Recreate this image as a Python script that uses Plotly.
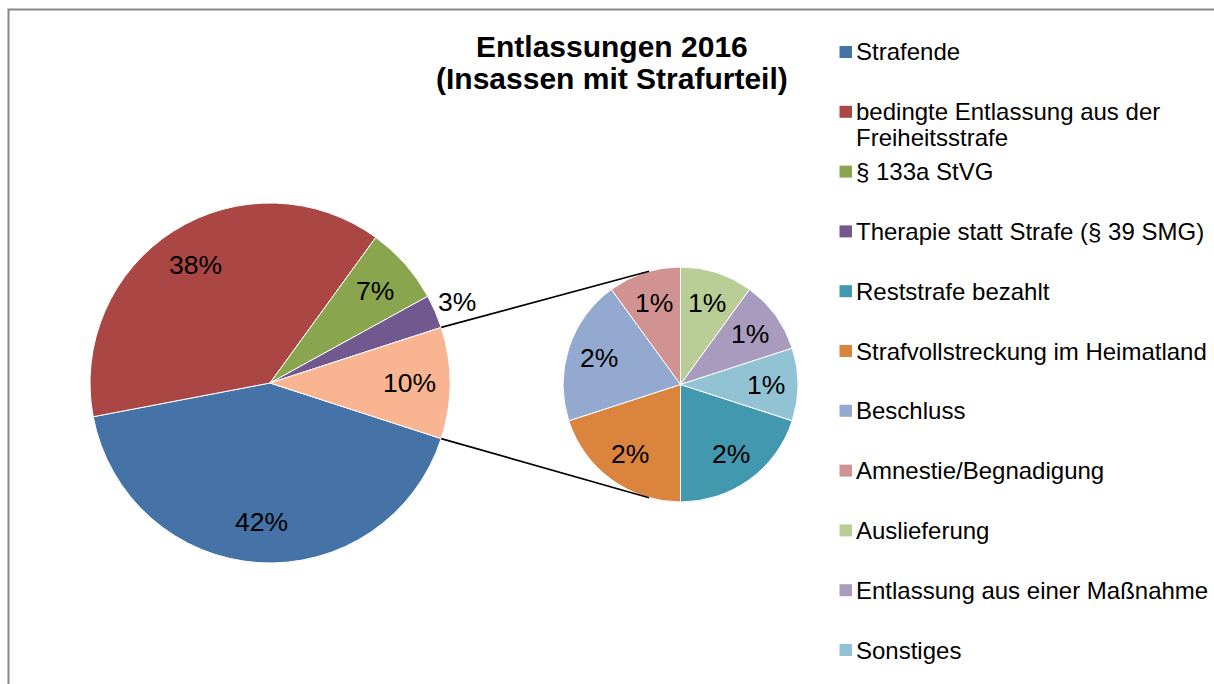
import math
import plotly.graph_objects as go

W, H = 1214, 684

# ---- data -------------------------------------------------------------
title_lines = ["Entlassungen 2016", "(Insassen mit Strafurteil)"]

main_labels = [
    "Strafende",
    "bedingte Entlassung aus der<br>Freiheitsstrafe",
    "§ 133a StVG",
    "Therapie statt Strafe (§ 39 SMG)",
]
main_values = [42, 38, 7, 3]

sub_labels = [
    "Reststrafe bezahlt",
    "Strafvollstreckung im Heimatland",
    "Beschluss",
    "Amnestie/Begnadigung",
    "Auslieferung",
    "Entlassung aus einer Maßnahme",
    "Sonstiges",
]
sub_values = [2, 2, 2, 1, 1, 1, 1]

other_label = "Weitere"

# ---- styles -----------------------------------------------------------
main_colors = ["#4572A7", "#AA4643", "#89A54E", "#71588F"]
sub_colors = ["#4198AF", "#DB843D", "#93A9CF", "#D19392", "#B9CD96", "#A99BBD", "#92C3D4"]
other_color = "#F9B592"

FONT = "Liberation Sans, Arial, sans-serif"

# pie boxes in pixels (left, top, size)
MAIN_BOX = (90, 203, 360)
SUB_BOX = (563, 267, 235)


def px(x):
    return x / W


def py(y):
    return 1 - y / H


def domain(box):
    x0, y0, s = box
    return dict(x=[px(x0), px(x0 + s)], y=[py(y0 + s), py(y0)])


def slice_angles(values, rotation):
    total = sum(values)
    out = []
    acc = 0.0
    for v in values:
        a0 = rotation + acc / total * 360
        acc += v
        a1 = rotation + acc / total * 360
        out.append((a0, a1))
    return out


def polar(box, frac, ang):
    x0, y0, s = box
    r = s / 2
    cx, cy = x0 + r, y0 + r
    a = math.radians(ang)
    return cx + frac * r * math.sin(a), cy - frac * r * math.cos(a)


main_all_values = main_values + [sum(sub_values)]
main_all_colors = main_colors + [other_color]
main_total = sum(main_all_values)
# the aggregated slice is centred at 3 o'clock
main_rotation = 90 + main_all_values[-1] / main_total * 180
sub_rotation = 108

fig = go.Figure()

fig.add_trace(go.Pie(
    labels=[l.replace("<br>", " ") for l in main_labels] + [other_label],
    values=main_all_values,
    marker=dict(colors=main_all_colors, line=dict(color="white", width=1)),
    sort=False, direction="clockwise", rotation=main_rotation,
    textinfo="none", showlegend=False, domain=domain(MAIN_BOX),
))

fig.add_trace(go.Pie(
    labels=sub_labels,
    values=sub_values,
    marker=dict(colors=sub_colors, line=dict(color="white", width=1)),
    sort=False, direction="clockwise", rotation=sub_rotation,
    textinfo="none", showlegend=False, domain=domain(SUB_BOX),
))

annotations = []
shapes = []

# percentage labels
LABEL_FONT = dict(family=FONT, size=26.5, color="black")
for (a0, a1), v in zip(slice_angles(main_all_values, main_rotation), main_all_values):
    share = v / main_total
    frac = 1.13 if share < 0.05 else 0.775
    x, y = polar(MAIN_BOX, frac, (a0 + a1) / 2)
    annotations.append(dict(x=px(x), y=py(y), xref="paper", yref="paper",
                            text=f"{round(share * 100)}%", showarrow=False,
                            xanchor="center", yanchor="middle", font=LABEL_FONT))

for (a0, a1), v in zip(slice_angles(sub_values, sub_rotation), sub_values):
    share = v / main_total
    x, y = polar(SUB_BOX, 0.73, (a0 + a1) / 2)
    annotations.append(dict(x=px(x), y=py(y), xref="paper", yref="paper",
                            text=f"{round(share * 100)}%", showarrow=False,
                            xanchor="center", yanchor="middle", font=LABEL_FONT))

# connector lines between aggregated slice and the secondary pie
other_a0, other_a1 = slice_angles(main_all_values, main_rotation)[-1]
for a_main, a_sub in ((other_a0, -15.5), (other_a1, 195.5)):
    x0, y0 = polar(MAIN_BOX, 1.0, a_main)
    x1, y1 = polar(SUB_BOX, 1.0, a_sub)
    shapes.append(dict(type="line", xref="paper", yref="paper",
                       x0=px(x0), y0=py(y0), x1=px(x1), y1=py(y1),
                       line=dict(color="black", width=1.6)))

# title
for text, yc in zip(title_lines, (47, 79)):
    annotations.append(dict(x=px(612), y=py(yc), xref="paper", yref="paper",
                            text=f"<b>{text}</b>", showarrow=False,
                            xanchor="center", yanchor="middle",
                            font=dict(family=FONT, size=30, color="black")))

# legend
LEG_FONT = dict(family=FONT, size=24, color="black")
leg_labels = main_labels + sub_labels
leg_colors = main_colors + sub_colors
for i, (lab, col) in enumerate(zip(leg_labels, leg_colors)):
    yc = 52 + i * 59.8
    shapes.append(dict(type="rect", xref="paper", yref="paper",
                       x0=px(839.5), x1=px(852), y0=py(yc - 6), y1=py(yc + 6),
                       fillcolor=col, line=dict(width=0)))
    for j, line in enumerate(lab.split("<br>")):
        annotations.append(dict(x=px(854), y=py(yc + j * 26), xref="paper", yref="paper",
                                text=line, showarrow=False,
                                xanchor="left", yanchor="middle", font=LEG_FONT))

# chart frame (left and top edges)
shapes.append(dict(type="path", xref="paper", yref="paper",
                   path=f"M {px(8.5)},{py(700)} L {px(8.5)},{py(9.5)} L {px(1220)},{py(9.5)}",
                   line=dict(color="#878787", width=2)))

fig.update_layout(
    width=W, height=H,
    margin=dict(l=0, r=0, t=0, b=0),
    paper_bgcolor="white", plot_bgcolor="white",
    annotations=annotations, shapes=shapes,
    font=dict(family=FONT),
)

fig.write_html("out.html")
